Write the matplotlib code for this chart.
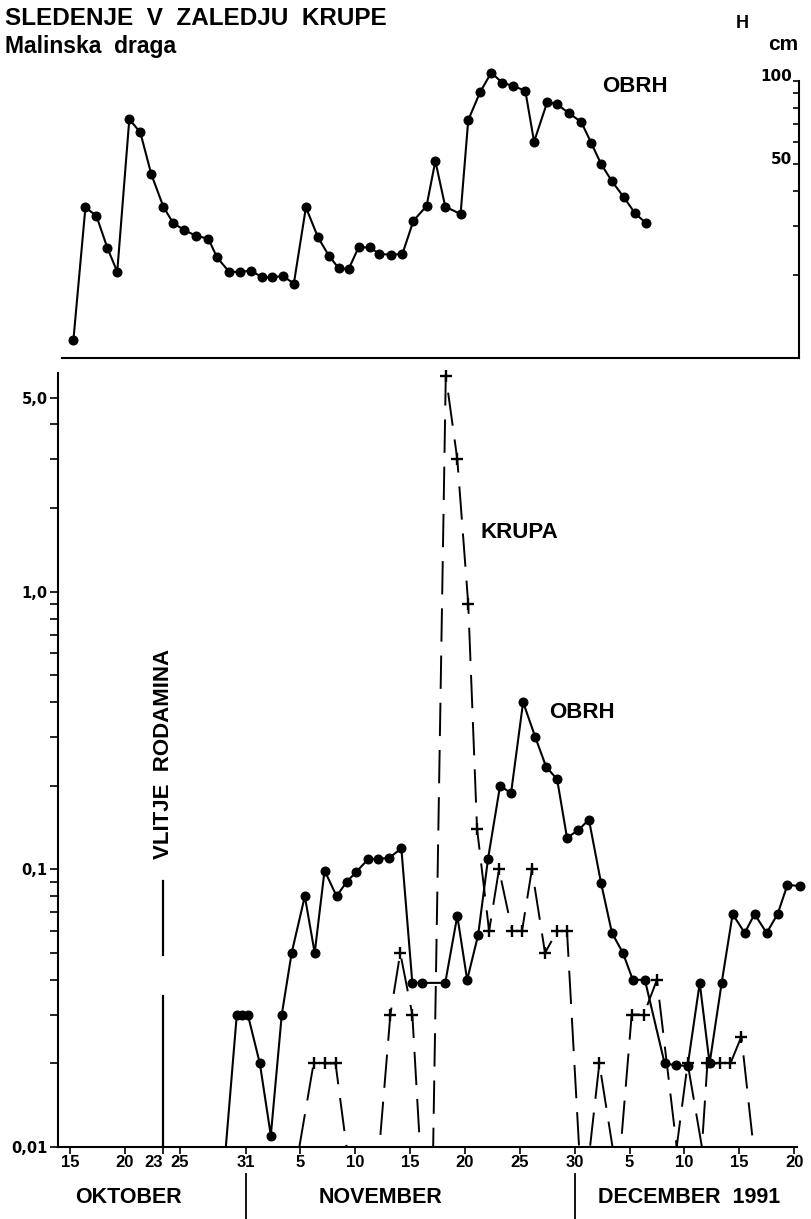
import matplotlib
matplotlib.use("Agg")
import numpy as np
import matplotlib.pyplot as plt
from matplotlib import font_manager
from matplotlib.ticker import FixedLocator, FixedFormatter, NullFormatter
from matplotlib.transforms import blended_transform_factory

# days are counted from 1 October 1991 (1 Nov = 32, 1 Dec = 62)

# upper panel: water level of Obrh (cm)
level_day = [15.3, 16.4, 17.4, 18.4, 19.3, 20.4, 21.4, 22.4, 23.5, 24.4,
             25.4, 26.5, 27.6, 28.4, 29.5, 30.5, 31.5, 32.5, 33.4, 34.4,
             35.4, 36.5, 37.6, 38.6, 39.5, 40.4, 41.3, 42.3, 43.2, 44.3,
             45.3, 46.3, 47.5, 48.3, 49.2, 50.6, 51.3, 52.4, 53.4, 54.4,
             55.4, 56.5, 57.3, 58.5, 59.4, 60.5, 61.6, 62.5, 63.4, 64.4,
             65.5, 66.5, 67.5]
level_cm = [11.6, 35.0, 32.6, 25.0, 20.5, 72.6, 65.2, 46.1, 35.2, 30.7,
            29.0, 27.6, 27.0, 23.1, 20.5, 20.5, 20.7, 19.6, 19.6, 19.8,
            18.6, 35.0, 27.3, 23.4, 21.1, 21.0, 25.1, 25.1, 23.8, 23.6,
            23.8, 31.3, 35.4, 51.4, 35.2, 33.1, 72.2, 91.3, 106.9, 98.3,
            95.7, 92.0, 60.3, 83.8, 82.2, 76.3, 71.0, 59.8, 50.2, 43.4,
            38.0, 33.3, 30.7]

# lower panel: tracer concentration, 0.01 = not detected (drawn on the base line)
obrh_day = [29.2, 30.2, 30.7, 31.2, 32.3, 33.3, 34.3, 35.2, 36.4, 37.3,
            38.2, 39.3, 40.2, 41.1, 42.2, 43.1, 44.1, 45.2, 46.2, 47.1,
            49.2, 50.3, 51.2, 52.2, 53.1, 54.2, 55.2, 56.3, 57.4, 58.4,
            59.4, 60.3, 61.3, 62.3, 63.4, 64.4, 65.4, 66.3, 67.4, 69.2,
            70.2, 71.3, 72.4, 73.3, 74.4, 75.4, 76.5, 77.4, 78.5, 79.5,
            80.4, 81.5]
obrh_conc = [0.01, 0.03, 0.03, 0.03, 0.02, 0.011, 0.03, 0.05, 0.08, 0.05,
             0.099, 0.08, 0.09, 0.098, 0.109, 0.109, 0.11, 0.119, 0.039, 0.039,
             0.039, 0.068, 0.040, 0.058, 0.109, 0.20, 0.188, 0.40, 0.30, 0.234,
             0.211, 0.130, 0.138, 0.151, 0.0895, 0.059, 0.050, 0.040, 0.040, 0.020,
             0.0197, 0.0196, 0.039, 0.020, 0.039, 0.069, 0.059, 0.069, 0.059, 0.069,
             0.088, 0.087]

krupa_day = [35.9, 37.2, 38.2, 39.2, 40.2, 43.2, 44.2, 45.1, 46.2, 46.9,
             48.1, 49.25, 50.3, 51.3, 52.1, 53.2, 54.1, 55.3, 56.2, 57.1,
             58.3, 59.4, 60.3, 61.4, 62.4, 63.25, 64.45, 65.2, 66.2, 67.3,
             68.5, 70.3, 71.3, 72.6, 73.1, 74.25, 75.2, 76.2, 77.3]
krupa_conc = [0.01, 0.02, 0.02, 0.02, 0.01, 0.01, 0.03, 0.05, 0.03, 0.01,
              0.01, 6.0, 3.0, 0.9, 0.14, 0.06, 0.1, 0.06, 0.06, 0.1,
              0.05, 0.06, 0.06, 0.01, 0.01, 0.02, 0.01, 0.01, 0.03, 0.03,
              0.04, 0.01, 0.02, 0.01, 0.02, 0.02, 0.02, 0.025, 0.01]

injection_day = 23.5
tick_days = [15, 20, 23.5, 25, 31, 36, 41, 46, 51, 56, 61, 66, 71, 76, 81]
tick_labels = ["15", "20", "23", "25", "31", "5", "10", "15", "20", "25",
               "30", "5", "10", "15", "20"]
month_names = ["OKTOBER", "NOVEMBER", "DECEMBER  1991"]
month_mid = [20.3, 43.3, 71.4]
month_breaks = [31, 61]
conc_ticks = [0.01, 0.1, 1.0, 5.0]
conc_labels = ["0,01", "0,1", "1,0", "5,0"]
level_ticks = [50, 100]
level_labels = ["50", "100"]

installed = {f.name for f in font_manager.fontManager.ttflist}
NARROW = "Liberation Sans Narrow" if "Liberation Sans Narrow" in installed else "Liberation Sans"
SANS = "Liberation Sans"
plt.rcParams["lines.scale_dashes"] = False
plt.rcParams["axes.linewidth"] = 1.5

fig = plt.figure(figsize=(8.11, 12.19), dpi=100)
left, width = 58 / 811, 741 / 811
ax_top = fig.add_axes([left, 1 - 358.4 / 1219, width, 299.7 / 1219])
ax = fig.add_axes([left, 1 - 1147 / 1219, width, 774 / 1219])
xlim = (13.9, 81.45)

# ---- upper panel: water level
ax_top.plot(level_day, level_cm, color="black", lw=1.5, marker="o", ms=6.2, zorder=3)
ax_top.set_yscale("log")
ax_top.set_ylim(10, 120)
ax_top.set_xlim(*xlim)
ax_top.spines["top"].set_visible(False)
ax_top.spines["right"].set_visible(False)
ax_top.spines["left"].set_position(("data", xlim[1]))
ax_top.spines["left"].set_bounds(10, 100)
ax_top.spines["bottom"].set_bounds(14.27, xlim[1])
ax_top.set_xticks([])
ax_top.yaxis.set_major_locator(FixedLocator(level_ticks))
ax_top.yaxis.set_major_formatter(FixedFormatter(level_labels))
ax_top.yaxis.set_minor_locator(FixedLocator([10, 20, 30, 40, 60, 70, 80, 90]))
ax_top.yaxis.set_minor_formatter(NullFormatter())
ax_top.tick_params(axis="y", which="both", direction="out", length=4, width=1.2,
                   pad=1, labelsize=11, labelfontfamily="DejaVu Sans")
for t in ax_top.yaxis.get_major_ticks():
    t.label1.set_fontweight("bold")
    t.label1.set_va("baseline")
ax_top.text(66.5, 95, "OBRH", fontsize=16, fontweight="bold", family=SANS,
            ha="center", va="center")

# ---- lower panel: tracer concentrations
od = np.array(obrh_day)
oc = np.array(obrh_conc)
kd = np.array(krupa_day)
kc = np.array(krupa_conc)

ax.plot(od, oc, color="black", lw=1.5, zorder=4)
ax.plot(od[oc > 0.01], oc[oc > 0.01], ls="none", marker="o", ms=6.2,
        color="black", zorder=5, clip_on=False)
ax.plot(kd, kc, color="black", lw=1.4, dashes=(24, 10), zorder=3)
ax.plot(kd[kc > 0.01], kc[kc > 0.01], ls="none", marker="+", ms=8, mew=1.7,
        color="black", zorder=3, clip_on=False)

# dye injection
ax.plot([injection_day, injection_day], [0.01, 0.035], color="black", lw=1.6, zorder=2)
ax.plot([injection_day, injection_day], [0.049, 0.091], color="black", lw=1.6, zorder=2)
ax.text(injection_day, 0.26, "VLITJE  RODAMINA", rotation=90, fontsize=16,
        fontweight="bold", family=SANS, ha="center", va="center")

ax.text(56.0, 1.63, "KRUPA", fontsize=16, fontweight="bold", family=SANS,
        ha="center", va="center")
ax.text(61.7, 0.368, "OBRH", fontsize=16, fontweight="bold", family=SANS,
        ha="center", va="center")

ax.set_yscale("log")
ax.set_ylim(0.01, 6.13)
ax.set_xlim(*xlim)
ax.spines["top"].set_visible(False)
ax.spines["right"].set_visible(False)
ax.spines["bottom"].set_bounds(xlim[0], 81.27)

ax.yaxis.set_major_locator(FixedLocator(conc_ticks))
ax.yaxis.set_major_formatter(FixedFormatter(conc_labels))
minor = [m * d for d in (0.01, 0.1, 1.0) for m in range(2, 10) if m * d < 5]
ax.yaxis.set_minor_locator(FixedLocator(minor))
ax.yaxis.set_minor_formatter(NullFormatter())
ax.tick_params(axis="y", which="both", direction="out", length=5.5, width=1.2,
               pad=2, labelsize=10.5, labelfontfamily="DejaVu Sans")
for t in ax.yaxis.get_major_ticks():
    t.label1.set_fontweight("bold")

ax.set_xticks(tick_days)
ax.set_xticklabels(tick_labels)
ax.tick_params(axis="x", direction="out", length=5, width=1.2, pad=1,
               labelsize=12, labelfontfamily=NARROW)
for i, t in enumerate(ax.xaxis.get_major_ticks()):
    t.label1.set_fontweight("bold")
    if tick_labels[i] == "23":
        t.label1.set_ha("right")

# month names under the axis
trans = blended_transform_factory(ax.transData, ax.transAxes)
for name, mid in zip(month_names, month_mid):
    ax.text(mid, -0.0646, name, transform=trans, fontsize=15.5, fontweight="bold",
            family=SANS, ha="center", va="center")
for b in month_breaks:
    ax.plot([b, b], [-0.035, -0.095], transform=trans, color="black", lw=1.3,
            clip_on=False)

# headings
fig.text(5 / 811, 1 - 25 / 1219, "SLEDENJE  V  ZALEDJU  KRUPE", fontsize=17.5,
         fontweight="bold", family=SANS, va="baseline")
fig.text(5 / 811, 1 - 53 / 1219, "Malinska  draga", fontsize=16.5,
         fontweight="bold", family=SANS, va="baseline")
fig.text(742 / 811, 1 - 28 / 1219, "H", fontsize=13, fontweight="bold",
         family=SANS, ha="center", va="baseline")
fig.text(783 / 811, 1 - 50 / 1219, "cm", fontsize=15, fontweight="bold",
         family=SANS, ha="center", va="baseline")

fig.savefig("out.png", dpi=100)
